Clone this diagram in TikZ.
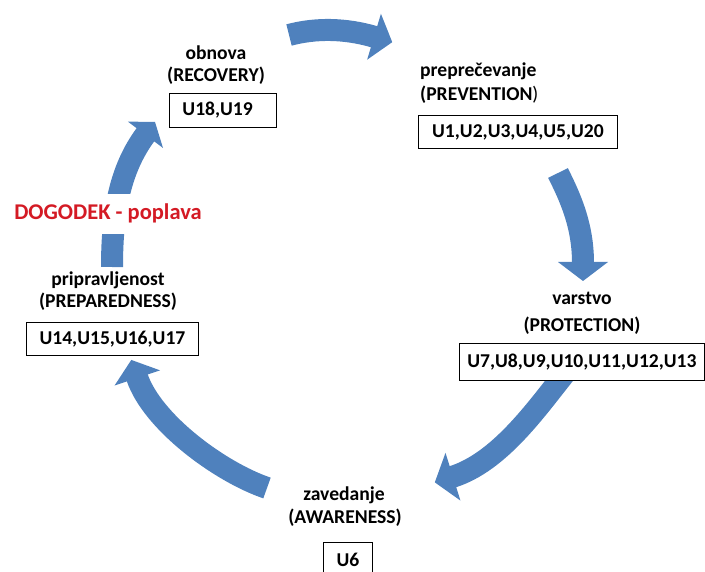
\documentclass[tikz,border=0pt]{standalone}
\usepackage{fontspec}
\setmainfont{Carlito}
\usetikzlibrary{calc}
\definecolor{cycblue}{RGB}{79,129,189}
\definecolor{evred}{RGB}{212,26,36}
\newcommand\cycarrow[6]{%
  \draw[cycbody] #1 .. controls #2 and #3 .. #4;
  \fill[cycblue] ($#4!-#6!#3$) -- ($#4!1pt!#3!#5!90:#3$) -- ($#4!1pt!#3!#5!-90:#3$) -- cycle;}
\tikzset{
  cycbody/.style={draw=cycblue, line width=22pt, line cap=butt},
  lbl/.style={font=\bfseries\fontsize{19.6}{22}\selectfont, inner sep=0pt, anchor=base},
  ubox/.style={draw=black, line width=0.9pt, fill=white, font=\bfseries\fontsize{19.6}{22}\selectfont,
               inner xsep=4pt, inner ysep=0pt, anchor=north west},
}
\begin{document}
\begin{tikzpicture}[x=1pt,y=-1pt]
\useasboundingbox (0,0) rectangle (705,572);
% arrow end points
\coordinate (a1s) at (289,35);  \coordinate (a1e) at (375,37);
\coordinate (a2s) at (558,173); \coordinate (a2e) at (583,263);
\coordinate (a3s) at (566,372); \coordinate (a3e) at (452,477);
\coordinate (a4s) at (267,488); \coordinate (a4e) at (137,377);
\coordinate (a5s) at (112,267); \coordinate (a5e) at (146,134);
% cycle arrows
\cycarrow{(a1s)}{(315,28)}{(345,28)}{(a1e)}{24pt}{18pt}
\cycarrow{(a2s)}{(570,197)}{(583,225)}{(a2e)}{25pt}{18pt}
\cycarrow{(a3s)}{(537,408)}{(500,462)}{(a3e)}{25pt}{18pt}
\cycarrow{(a4s)}{(220,472)}{(152,422)}{(a4e)}{24pt}{18pt}
\cycarrow{(a5s)}{(112,215)}{(119,170)}{(a5e)}{22pt}{15pt}
% event label
\node[lbl, text=evred, fill=white, inner xsep=2pt, inner ysep=10pt,
      font=\bfseries\fontsize{22.5}{24}\selectfont] (event) at (108,220) {DOGODEK - poplava};
% boxes
\node[ubox, minimum width=107pt, minimum height=34pt, text width=81pt, align=left, inner xsep=13pt] (recbox) at (169,93) {U18,U19};
\node[ubox, minimum width=199pt, minimum height=33pt] (prevbox) at (418,115) {U1,U2,U3,U4,U5,U20};
\node[ubox, minimum width=245pt, minimum height=37pt] (protbox) at (459,343) {U7,U8,U9,U10,U11,U12,U13};
\node[ubox, minimum width=49pt, minimum height=34pt] (awbox) at (323,542) {U6};
\node[ubox, minimum width=172pt, minimum height=33pt] (prepbox) at (26,322) {U14,U15,U16,U17};
% stage labels
\node[lbl] (rec1) at (216,60) {obnova};
\node[lbl] (rec2) at (216,82) {(RECOVERY)};
\node[lbl, anchor=base west] (prev1) at (420,77) {preprečevanje};
\node[lbl, anchor=base west] (prev2) at (420,101) {(PREVENTION\mdseries)};
\node[lbl] (prot1) at (582,305) {varstvo};
\node[lbl] (prot2) at (582,332) {(PROTECTION)};
\node[lbl] (aw1) at (344,500) {zavedanje};
\node[lbl] (aw2) at (345,523) {(AWARENESS)};
\node[lbl] (prep1) at (108,286) {pripravljenost};
\node[lbl] (prep2) at (108,308) {(PREPAREDNESS)};
\end{tikzpicture}
\end{document}
